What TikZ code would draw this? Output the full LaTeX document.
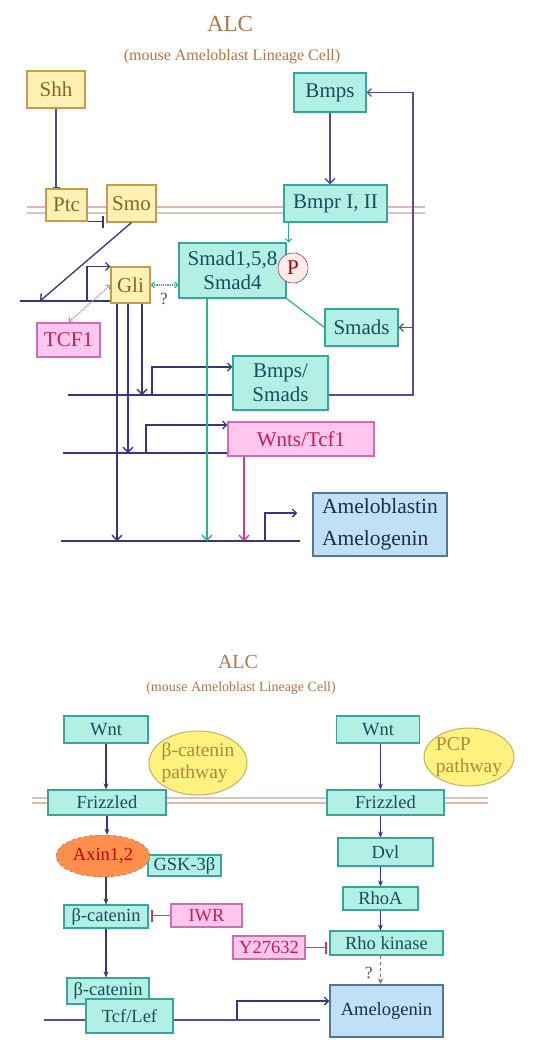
\documentclass[tikz,border=0pt]{standalone}
\usepackage{fontspec}
\setmainfont{Liberation Serif}
\usetikzlibrary{arrows.meta,shapes.geometric,backgrounds}
\definecolor{cyanbg}{HTML}{B2F0E6}
\definecolor{cyanln}{HTML}{3AA39C}
\definecolor{cyantx}{HTML}{1D4B5C}
\definecolor{yelbg}{HTML}{FFF0B4}
\definecolor{yelln}{HTML}{C79A4E}
\definecolor{yeltx}{HTML}{85661F}
\definecolor{pinkbg}{HTML}{FFC6F0}
\definecolor{pinkln}{HTML}{CF6FB0}
\definecolor{pinktx}{HTML}{C4204E}
\definecolor{bluebg}{HTML}{BFE0F7}
\definecolor{blueln}{HTML}{557792}
\definecolor{bluetx}{HTML}{1E2E40}
\definecolor{navy}{HTML}{34377E}
\definecolor{sgreen}{HTML}{30B08E}
\definecolor{mag}{HTML}{C63C8E}
\definecolor{fbc}{HTML}{5A4A9A}
\definecolor{ttlc}{HTML}{B07548}
\definecolor{memA}{HTML}{E8B4A8}
\definecolor{memB}{HTML}{D9C4BC}
\definecolor{redinh}{HTML}{D0404C}
\definecolor{ellbg}{HTML}{FFF27E}
\definecolor{ellln}{HTML}{C8B062}
\definecolor{elltx}{HTML}{B08A3A}
\tikzset{
  box/.style   ={draw, line width=1.1pt, inner sep=0pt, align=center},
  sz/.style 2 args={minimum width=#1, minimum height=#2},
  cbox/.style  ={box, draw=cyanln, fill=cyanbg, text=cyantx},
  ybox/.style  ={box, draw=yelln, fill=yelbg, text=yeltx},
  pbox/.style  ={box, draw=pinkln, fill=pinkbg, text=pinktx},
  bbox/.style  ={box, draw=blueln, fill=bluebg, text=bluetx, line width=1.5pt},
  pcirc/.style ={circle, draw=red!55!black, fill=red!8, text=red!65!black, inner sep=0pt, minimum size=30pt},
  pathw/.style ={ellipse, draw=ellln, fill=ellbg, text=elltx, line width=1pt, align=left,
                 inner xsep=-10pt, inner ysep=-4pt, font=\fontsize{19.5}{22}\selectfont},
  axn/.style   ={ellipse, draw=black!60, dashed, fill=orange!75!red!70, text=red!80!black, inner sep=0pt},
  fA/.style    ={font=\fontsize{21}{24}\selectfont},
  fB/.style    ={font=\fontsize{18.5}{21}\selectfont},
  ttl/.style   ={text=ttlc, inner sep=0pt},
  qm/.style    ={text=black!70, inner sep=0pt, font=\fontsize{17}{19}\selectfont},
  dna/.style   ={line width=1.6pt, navy},
  act/.style   ={line width=1.6pt, navy, -{Straight Barb[length=5pt,width=10pt,line width=1.4pt]}},
  prom/.style  ={line width=1.3pt, navy, -{Straight Barb[length=4pt,width=8pt]}},
  sact/.style  ={line width=1.2pt, navy, -{Stealth[length=6pt,width=5pt]}},
  fbk/.style   ={line width=1.3pt, fbc, -{Straight Barb[length=4pt,width=8pt]}},
  inh/.style   ={line width=1.8pt, -{Bar[width=12pt,line width=2.2pt]}},
  dots/.style  ={densely dotted, line width=1.2pt,
                 {Straight Barb[length=3pt,width=6pt]}-{Straight Barb[length=3pt,width=6pt]}},
}
\begin{document}
\begin{tikzpicture}[x=1pt,y=-1pt]
  \useasboundingbox (0,0) rectangle (546,1052);
  % ---- upper panel: Hh / Bmp ----
  \node[ttl, font=\fontsize{23}{26}\selectfont] (alcA) at (230,24) {ALC};
  \node[ttl, font=\fontsize{16}{18}\selectfont] (subA) at (232,57) {(mouse Ameloblast Lineage Cell)};
  \node[ybox, fA, sz={58pt}{37pt}]  (shh)      at (56,89.5)    {Shh};
  \node[cbox, fA, sz={72pt}{39pt}]  (bmps)     at (330,92.5)   {Bmps};
  \node[ybox, fA, sz={41pt}{32pt}]  (ptc)      at (66.5,205)   {Ptc};
  \node[ybox, fA, sz={49pt}{37pt}]  (smo)      at (131.5,203.5) {Smo};
  \node[cbox, fA, sz={103pt}{37pt}] (bmpr)     at (335.5,203.5) {Bmpr I, II};
  \node[cbox, fA, sz={107pt}{55pt}] (smad)     at (232.5,270.5) {Smad1,5,8\\Smad4};
  \node[pcirc, fA]                  (phos)     at (293,268)    {P};
  \node[ybox, fA, sz={39pt}{36pt}]  (gli)      at (130.5,285)  {Gli};
  \node[pbox, fA, sz={63pt}{34pt}]  (tcf)      at (68.5,340)   {TCF1};
  \node[cbox, fA, sz={73pt}{37pt}]  (smads)    at (361.5,327.5) {Smads};
  \node[cbox, fA, sz={95pt}{54pt}]  (bmpsmads) at (280.5,383)  {Bmps/\\Smads};
  \node[pbox, fA, sz={146pt}{34pt}] (wnttcf)   at (301,439)    {Wnts/Tcf1};
  \node[bbox, font=\fontsize{21.5}{32}\selectfont, sz={134pt}{63pt}, align=left]
                                    (amelo)    at (380,524.5)  {Ameloblastin\\Amelogenin};
  \node[qm] (q1) at (164,299) {?};
  % DNA ends
  \coordinate (dnaG) at (20,301);
  \coordinate (dnaB) at (68,395);
  \coordinate (dnaW) at (63,453);
  \coordinate (dnaA) at (61,541);
  \coordinate (dnaAend) at (300,541);
  \coordinate (pG) at (87,301);
  \coordinate (pB) at (152,395);
  \coordinate (pW) at (146,453);
  \coordinate (pA) at (265,541);
  \coordinate (smoEnd) at (40,301);
  \coordinate (g1) at (117,541);
  \coordinate (g2) at (128,453);
  \coordinate (g3) at (142,395);
  \coordinate (gS) at (207,541);
  \coordinate (mW) at (244,541);
  \coordinate (fb) at (413,395);
  % connectors
  \draw[line width=1.4pt, navy!70!gray, -{Bar[width=7pt,line width=1.4pt]}] (shh.south) -- (shh.south |- ptc.north);
  \draw[inh, navy, line width=1.4pt] (ptc.south east) -- ([xshift=-2pt]ptc.south east -| smo.west);
  \draw[act, line width=1.3pt] (smo.south) -- (smoEnd);
  \draw[prom] (pG) |- (gli.north west);
  \draw[prom] (pB) |- ([yshift=16pt]bmpsmads.west);
  \draw[prom] (pW) |- ([yshift=14pt]wnttcf.west);
  \draw[prom, shorten >=15pt] (pA) |- ([yshift=11.5pt]amelo.west);
  \draw[act] (gli.south -| g1) -- (g1);
  \draw[act] (gli.south -| g2) -- (g2);
  \draw[act] (gli.south -| g3) -- (g3);
  \draw[act, sgreen] (smad.south -| gS) -- (gS);
  \draw[act, mag] (wnttcf.south -| mW) -- (mW);
  \draw[dots, mag!70] (tcf.north) -- (gli.west);
  \draw[dots, sgreen] (gli.east) -- (gli.east -| smad.west);
  \draw[act, fbc, line width=1.4pt] (bmps.south) -- (bmps.south |- bmpr.north);
  \draw[sgreen, line width=1.1pt, -{Straight Barb[length=3pt,width=6pt]}]
    ([xshift=2pt]bmpr.south -| smad.north east) -- ([xshift=2pt]smad.north east);
  \draw[sgreen, line width=1.2pt] (smad.south east) -- (smads.west);
  \draw[fbk] (dnaB -| bmpsmads.east) -- (fb) |- (bmps.east);
  \draw[fbk] (fb |- smads.east) -- (smads.east);
  % ---- lower panel: Wnt ----
  \node[ttl, font=\fontsize{20}{22}\selectfont] (alcB) at (238,662) {ALC};
  \node[ttl, font=\fontsize{14}{16}\selectfont] (subB) at (241,688) {(mouse Ameloblast Lineage Cell)};
  \node[cbox, fB, sz={84pt}{27pt}]  (wntL)   at (106,729.5)  {Wnt};
  \node[pathw, sz={98pt}{64pt}]     (catell) at (198,763)    {β-catenin\\pathway};
  \node[cbox, fB, sz={83pt}{27pt}]  (wntR)   at (378,729.5)  {Wnt};
  \node[pathw, sz={90pt}{58pt}]     (pcpell) at (469,757)    {PCP\\pathway};
  \node[cbox, fB, sz={118pt}{25pt}] (frzL)   at (107,802.5)  {Frizzled};
  \node[cbox, fB, sz={117pt}{25pt}] (frzR)   at (385.5,802.5) {Frizzled};
  \node[cbox, fB, sz={73pt}{21pt}]  (gsk)    at (184.5,865.5) {GSK-3β};
  \node[axn, fB, sz={94pt}{42pt}]   (axin)   at (103,856)    {Axin1,2};
  \node[cbox, fB, sz={95pt}{28pt}]  (dvl)    at (385.5,852)  {Dvl};
  \node[cbox, fB, sz={75pt}{23pt}]  (rhoa)   at (380.5,898.5) {RhoA};
  \node[cbox, fB, sz={84pt}{23pt}]  (betaA)  at (106,916.5)  {β-catenin};
  \node[pbox, fB, sz={71pt}{23pt}]  (iwr)    at (206.5,915.5) {IWR};
  \node[cbox, fB, sz={113pt}{24pt}] (rhok)   at (386.5,943)  {Rho kinase};
  \node[pbox, fB, sz={72pt}{23pt}]  (yinh)   at (269,947.5)  {Y27632};
  \node[bbox, fB, sz={113pt}{52pt}] (ameloB) at (386.5,1011) {Amelogenin};
  \node[cbox, fB, sz={82pt}{26pt}]  (betaB)  at (108,991)    {β-catenin};
  \node[cbox, fB, sz={87pt}{34pt}]  (tcflef) at (129.5,1016) {Tcf/Lef};
  \node[qm] (q2) at (369,973) {?};
  \coordinate (dnaL) at (44,1020);
  \coordinate (dnaR) at (320,1020);
  \coordinate (pL) at (237,1020);
  \draw[sact] (wntL.south) -- (wntL.south |- frzL.north);
  \draw[sact] (frzL.south) -- (frzL.south |- axin.north);
  \draw[sact] (betaA.north |- axin.south) -- (betaA.north);
  \draw[sact] (betaA.south) -- (betaA.south |- betaB.north);
  \draw[sact] (rhoa.north |- wntR.south) -- (rhoa.north |- frzR.north);
  \draw[sact] (rhoa.north |- frzR.south) -- (rhoa.north |- dvl.north);
  \draw[sact] (rhoa.north |- dvl.south) -- (rhoa.north);
  \draw[sact] (rhoa.south) -- (rhoa.south |- rhok.north);
  \draw[sact, dashed, black!55] (rhoa.south |- rhok.south) -- (rhoa.south |- ameloB.north);
  \draw[inh, redinh] (iwr.west) -- ([xshift=2pt]betaA.east |- iwr.west);
  \draw[inh, redinh] (yinh.east) -- ([xshift=-2pt]rhok.west |- yinh.east);
  \draw[prom] (pL) |- ([yshift=10pt]ameloB.west);
  % membranes and DNA behind the boxes
  \begin{scope}[on background layer]
    \draw[memA, line width=1.2pt] (27,207) -- (425,207);
    \draw[memB, line width=1.2pt] (27,213) -- (425,213);
    \draw[memB, line width=1.2pt] (32,798) -- (488,798);
    \draw[memA, line width=1.2pt] (32,803) -- (488,803);
    \draw[dna] (dnaG) -- (dnaG -| gli.west);
    \draw[dna] (dnaB) -- (dnaB -| bmpsmads.west);
    \draw[dna] (dnaW) -- (dnaW -| wnttcf.west);
    \draw[dna] (dnaA) -- (dnaAend);
    \draw[dna, fbc] (dnaL) -- (dnaR);
  \end{scope}
\end{tikzpicture}
\end{document}
